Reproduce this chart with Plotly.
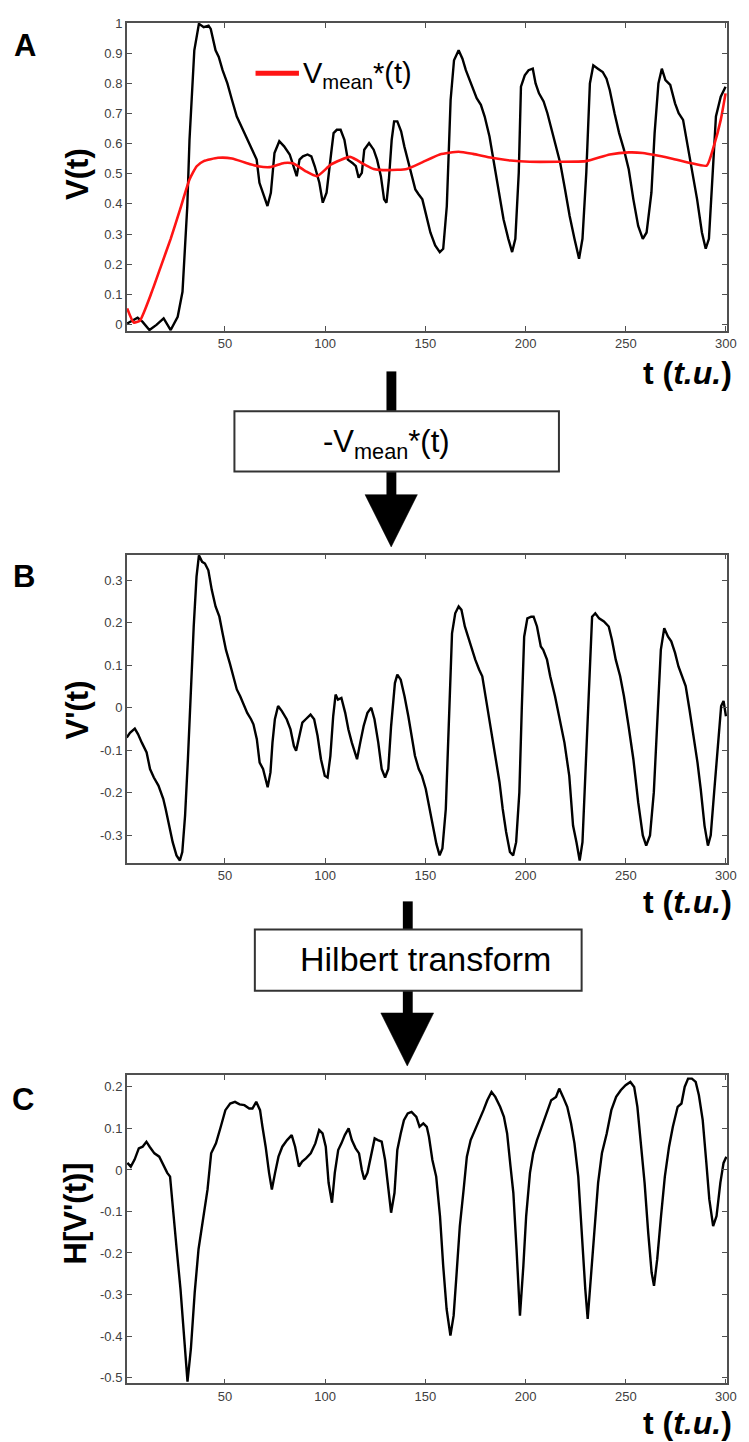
import plotly.graph_objects as go

# ---------------- data ----------------
# Panel A: V(t)
tA = [1.2, 6.4, 8.8, 12.3, 15.8, 19.4, 22.9, 26.4, 28.8, 31.2,
      32.3, 33.5, 34.7, 37.0, 39.4, 41.8, 42.9, 45.3, 46.9, 48.8,
      51.2, 53.5, 55.9, 58.2, 60.6, 63.0, 64.6, 65.8, 67.2, 68.9,
      71.2, 72.9, 74.7, 77.1, 79.5, 82.3, 84.2, 85.8, 87.2, 88.9,
      91.2, 93.1, 94.8, 97.1, 98.8, 100.7, 103.0, 104.2, 105.8, 107.7,
      109.6, 111.3, 113.6, 115.3, 116.7, 118.3, 119.5, 121.9, 124.2, 125.9,
      127.8, 129.4, 130.6, 131.8, 133.2, 134.4, 136.0, 137.9, 139.5, 141.2,
      143.1, 145.0, 146.6, 148.5, 150.1, 152.5, 154.9, 157.2, 158.9, 160.7,
      162.6, 164.3, 166.6, 168.5, 170.2, 172.1, 173.7, 175.6, 177.7, 179.6,
      182.0, 184.3, 186.7, 189.0, 191.4, 193.3, 194.9, 196.6, 197.7, 199.6,
      201.5, 203.6, 205.0, 206.7, 209.0, 210.9, 212.6, 214.9, 217.3, 219.7,
      222.0, 224.4, 226.7, 228.4, 230.3, 232.1, 233.8, 236.1, 238.5, 240.4,
      242.0, 244.4, 246.7, 249.1, 251.5, 253.8, 256.2, 258.5, 260.4, 262.8,
      264.4, 266.3, 268.0, 269.8, 272.2, 274.6, 276.4, 278.6, 280.9, 283.3,
      285.6, 288.0, 289.9, 291.5, 293.2, 295.0, 297.4, 299.8]
vA = [0.003, 0.022, 0.009, -0.019, -0.002, 0.020, -0.019, 0.025, 0.108, 0.393,
      0.613, 0.778, 0.910, 0.998, 0.987, 0.992, 0.981, 0.910, 0.888, 0.844,
      0.800, 0.745, 0.690, 0.657, 0.624, 0.591, 0.569, 0.547, 0.470, 0.437,
      0.393, 0.437, 0.569, 0.608, 0.591, 0.564, 0.525, 0.492, 0.547, 0.558,
      0.564, 0.558, 0.525, 0.470, 0.404, 0.437, 0.569, 0.635, 0.646, 0.646,
      0.613, 0.547, 0.536, 0.525, 0.487, 0.503, 0.580, 0.602, 0.580, 0.547,
      0.492, 0.415, 0.404, 0.481, 0.613, 0.674, 0.674, 0.641, 0.591, 0.547,
      0.503, 0.448, 0.432, 0.415, 0.371, 0.305, 0.262, 0.240, 0.251, 0.393,
      0.745, 0.877, 0.910, 0.882, 0.844, 0.811, 0.778, 0.751, 0.729, 0.690,
      0.624, 0.536, 0.437, 0.349, 0.284, 0.240, 0.284, 0.503, 0.789, 0.827,
      0.844, 0.849, 0.800, 0.767, 0.740, 0.701, 0.657, 0.602, 0.536, 0.448,
      0.360, 0.284, 0.218, 0.284, 0.503, 0.800, 0.860, 0.849, 0.838, 0.816,
      0.778, 0.701, 0.635, 0.580, 0.514, 0.415, 0.327, 0.284, 0.305, 0.437,
      0.635, 0.800, 0.849, 0.811, 0.795, 0.734, 0.701, 0.679, 0.591, 0.503,
      0.415, 0.305, 0.251, 0.284, 0.503, 0.690, 0.756, 0.789]

# Panel A: V_mean*(t)
tM = [1.2, 4.5, 7.5, 13.5, 18.2, 22.9, 27.6, 32.3, 35.9, 39.4, 46.5,
      53.5, 60.6, 66.5, 72.4, 79.5, 84.2, 90.1, 95.9, 103.0, 112.4,
      119.5, 124.2, 131.3, 140.7, 147.8, 157.2, 166.6, 173.7, 183.1, 192.6,
      202.0, 216.1, 230.3, 242.0, 251.5, 258.5, 272.7, 282.1, 290.4, 293.9,
      297.4, 299.8]
vM = [0.053, 0.006, 0.012, 0.108, 0.196, 0.284, 0.382, 0.481, 0.525, 0.542, 0.553,
      0.551, 0.536, 0.525, 0.522, 0.536, 0.534, 0.509, 0.492, 0.531, 0.556,
      0.531, 0.516, 0.512, 0.516, 0.536, 0.564, 0.573, 0.566, 0.553, 0.544,
      0.540, 0.540, 0.542, 0.564, 0.571, 0.569, 0.551, 0.536, 0.527, 0.591,
      0.679, 0.767]

# Panel B: V'(t)
tB = [1.0, 2.6, 5.0, 6.6, 8.5, 10.9, 12.6, 14.5, 16.8, 19.2,
      20.4, 22.3, 23.9, 25.8, 27.5, 28.7, 30.1, 31.5, 32.9, 34.4,
      35.8, 37.0, 38.6, 40.0, 41.7, 43.4, 45.3, 47.2, 48.8, 50.5,
      52.4, 54.0, 55.9, 57.6, 59.5, 61.1, 63.0, 64.2, 65.9, 67.3,
      69.0, 70.4, 71.3, 72.7, 73.7, 74.9, 76.5, 78.4, 80.8, 82.7,
      84.4, 85.5, 87.0, 88.6, 90.3, 92.7, 94.5, 96.2, 97.9, 99.8,
      101.2, 102.6, 104.0, 105.2, 106.4, 108.1, 110.0, 111.6, 113.3, 114.5,
      115.9, 117.5, 119.2, 121.1, 123.0, 124.6, 126.5, 128.2, 129.9, 131.5,
      132.9, 134.8, 136.0, 137.7, 139.6, 141.5, 143.1, 144.8, 146.7, 148.3,
      150.2, 151.9, 153.8, 155.5, 157.1, 158.5, 160.2, 161.8, 163.3, 164.9,
      166.6, 168.0, 169.7, 171.3, 173.2, 174.9, 176.8, 178.4, 180.3, 182.7,
      185.1, 187.0, 188.6, 190.3, 192.2, 193.8, 195.3, 196.9, 198.1, 199.3,
      200.9, 202.8, 204.0, 205.7, 207.6, 208.8, 210.7, 212.3, 214.7, 217.1,
      219.4, 221.8, 223.7, 225.4, 227.0, 228.4, 230.1, 231.8, 233.2, 234.8,
      236.7, 239.1, 241.5, 243.1, 245.0, 247.2, 249.1, 251.4, 253.8, 256.2,
      258.5, 260.2, 262.1, 264.0, 265.6, 267.5, 269.2, 271.1, 272.7, 274.6,
      276.3, 277.9, 279.9, 281.8, 283.9, 285.8, 287.4, 289.3, 291.0, 292.4,
      294.1, 296.0, 297.6, 298.8, 300.0]
vB = [-0.070, -0.059, -0.049, -0.062, -0.082, -0.105, -0.144, -0.164, -0.183, -0.214,
      -0.238, -0.277, -0.316, -0.347, -0.359, -0.339, -0.253, -0.121, 0.035, 0.191,
      0.308, 0.358, 0.343, 0.339, 0.323, 0.277, 0.238, 0.214, 0.175, 0.136,
      0.105, 0.074, 0.043, 0.027, 0.004, -0.012, -0.027, -0.039, -0.074, -0.129,
      -0.144, -0.175, -0.187, -0.152, -0.082, -0.027, 0.004, -0.008, -0.027, -0.051,
      -0.090, -0.101, -0.070, -0.035, -0.027, -0.016, -0.027, -0.066, -0.121, -0.160,
      -0.164, -0.113, -0.020, 0.031, 0.019, 0.023, -0.012, -0.051, -0.082, -0.098,
      -0.121, -0.082, -0.043, -0.012, 0.000, -0.027, -0.082, -0.144, -0.164, -0.144,
      -0.043, 0.058, 0.078, 0.066, 0.027, -0.020, -0.066, -0.113, -0.144, -0.160,
      -0.191, -0.230, -0.277, -0.320, -0.347, -0.331, -0.238, -0.004, 0.175, 0.222,
      0.238, 0.230, 0.191, 0.167, 0.136, 0.113, 0.090, 0.074, 0.019, -0.051,
      -0.121, -0.175, -0.238, -0.292, -0.339, -0.347, -0.316, -0.199, -0.004, 0.167,
      0.210, 0.214, 0.214, 0.191, 0.144, 0.136, 0.113, 0.074, 0.027, -0.027,
      -0.082, -0.160, -0.277, -0.316, -0.359, -0.316, -0.121, 0.074, 0.214, 0.222,
      0.210, 0.203, 0.191, 0.160, 0.113, 0.074, 0.027, -0.043, -0.121, -0.222,
      -0.300, -0.324, -0.300, -0.199, -0.043, 0.136, 0.187, 0.167, 0.156, 0.129,
      0.097, 0.074, 0.051, -0.004, -0.066, -0.129, -0.191, -0.277, -0.324, -0.300,
      -0.199, -0.082, 0.004, 0.016, -0.020]

# Panel C: H[V'(t)]
tC = [1.3, 3.0, 4.9, 7.0, 8.9, 10.8, 12.4, 14.8, 17.2, 19.5,
      21.2, 22.6, 24.2, 25.9, 27.8, 29.7, 31.3, 33.0, 34.9, 36.8,
      39.1, 41.3, 43.1, 45.5, 47.9, 50.2, 52.6, 55.0, 57.3, 59.7,
      62.1, 63.7, 65.6, 67.5, 68.7, 70.3, 72.0, 73.4, 75.0, 76.7,
      78.6, 81.0, 83.3, 85.0, 86.9, 88.5, 90.4, 92.8, 95.1, 97.0,
      98.7, 100.3, 101.7, 103.4, 104.8, 106.5, 108.1, 109.8, 111.7, 113.3,
      115.2, 116.9, 118.3, 119.5, 121.1, 122.8, 124.7, 126.3, 128.2, 129.9,
      131.3, 132.9, 134.6, 136.0, 137.7, 139.3, 141.2, 143.1, 145.5, 147.1,
      149.0, 150.7, 151.8, 153.5, 155.4, 157.3, 158.9, 160.6, 162.5, 164.1,
      165.5, 167.2, 169.1, 170.7, 172.6, 174.8, 176.7, 179.0, 180.9, 183.0,
      184.9, 187.3, 189.2, 190.8, 192.5, 193.9, 195.5, 197.2, 198.9, 200.3,
      202.2, 203.8, 205.7, 208.1, 210.4, 212.8, 215.2, 216.8, 218.7, 220.8,
      222.7, 224.4, 226.3, 227.9, 229.8, 231.0, 232.4, 234.1, 236.2, 238.1,
      240.5, 242.8, 245.2, 247.5, 249.9, 252.3, 254.2, 255.8, 257.5, 259.4,
      261.2, 262.9, 264.1, 265.7, 267.6, 269.5, 271.6, 273.5, 275.9, 277.8,
      279.4, 281.1, 283.0, 284.9, 286.5, 288.4, 290.1, 291.7, 293.6, 295.3,
      297.2, 298.8, 300.2]
vC = [0.017, 0.008, 0.025, 0.052, 0.056, 0.068, 0.056, 0.040, 0.032, 0.008,
      -0.007, -0.016, -0.111, -0.191, -0.287, -0.399, -0.510, -0.430, -0.295, -0.191,
      -0.111, -0.047, 0.040, 0.064, 0.104, 0.144, 0.160, 0.164, 0.158, 0.156,
      0.148, 0.148, 0.164, 0.144, 0.104, 0.056, -0.007, -0.047, -0.007, 0.032,
      0.056, 0.072, 0.084, 0.056, 0.008, 0.020, 0.028, 0.040, 0.064, 0.096,
      0.088, 0.056, -0.031, -0.079, -0.007, 0.048, 0.064, 0.084, 0.100, 0.072,
      0.052, 0.040, 0.000, -0.023, -0.007, 0.032, 0.076, 0.072, 0.068, 0.024,
      -0.031, -0.103, -0.055, 0.048, 0.088, 0.120, 0.136, 0.140, 0.128, 0.104,
      0.112, 0.104, 0.080, 0.024, -0.016, -0.111, -0.231, -0.335, -0.399, -0.351,
      -0.255, -0.135, -0.047, 0.032, 0.072, 0.096, 0.120, 0.144, 0.168, 0.188,
      0.176, 0.152, 0.128, 0.088, 0.008, -0.055, -0.191, -0.351, -0.231, -0.111,
      -0.007, 0.040, 0.072, 0.104, 0.136, 0.168, 0.176, 0.196, 0.176, 0.152,
      0.112, 0.064, -0.016, -0.151, -0.287, -0.359, -0.271, -0.151, -0.031, 0.040,
      0.088, 0.144, 0.176, 0.192, 0.204, 0.212, 0.200, 0.152, 0.072, -0.031,
      -0.151, -0.247, -0.279, -0.215, -0.111, -0.016, 0.056, 0.104, 0.152, 0.160,
      0.200, 0.220, 0.220, 0.212, 0.180, 0.120, 0.024, -0.071, -0.135, -0.111,
      -0.031, 0.017, 0.032]

x_ticks = [50, 100, 150, 200, 250, 300]
yA_ticks = [0, 0.1, 0.2, 0.3, 0.4, 0.5, 0.6, 0.7, 0.8, 0.9, 1]
yA_text = ["0", "0.1", "0.2", "0.3", "0.4", "0.5", "0.6", "0.7", "0.8", "0.9", "1"]
yB_ticks = [-0.3, -0.2, -0.1, 0, 0.1, 0.2, 0.3]
yB_text = ["-0.3", "-0.2", "-0.1", "0", "0.1", "0.2", "0.3"]
yC_ticks = [-0.5, -0.4, -0.3, -0.2, -0.1, 0, 0.1, 0.2]
yC_text = ["-0.5", "-0.4", "-0.3", "-0.2", "-0.1", "0", "0.1", "0.2"]

# ---------------- layout helpers ----------------
W, H = 749, 1442
FONT = "Liberation Sans, Arial, Helvetica, sans-serif"


def px(x):
    return x / W


def py(y):
    return 1 - y / H


fig = go.Figure()
fig.add_trace(go.Scatter(x=tA, y=vA, mode="lines", xaxis="x", yaxis="y",
                         line=dict(color="black", width=2.4), name="V(t)"))
fig.add_trace(go.Scatter(x=tM, y=vM, mode="lines", xaxis="x", yaxis="y",
                         line=dict(color="#ff1414", width=2.6, shape="spline", smoothing=0.5),
                         name="V<sub>mean</sub>*(t)"))
fig.add_trace(go.Scatter(x=tB, y=vB, mode="lines", xaxis="x2", yaxis="y2",
                         line=dict(color="black", width=2.4), name="V'(t)"))
fig.add_trace(go.Scatter(x=tC, y=vC, mode="lines", xaxis="x3", yaxis="y3",
                         line=dict(color="black", width=2.4), name="H[V'(t)]"))

axis_style = dict(showline=True, mirror="ticks", linecolor="#505050", linewidth=1.5,
                  ticks="inside", ticklen=5, tickwidth=1, tickcolor="#505050",
                  showgrid=False, zeroline=False,
                  tickfont=dict(family=FONT, size=13, color="#404040"))

xdom = [px(128.5), px(737)]
panels = [(16, 326), (551, 861), (1075, 1385)]
yranges = [[-0.022, 1.001], [-0.364, 0.36], [-0.514, 0.228]]
yticks = [(yA_ticks, yA_text), (yB_ticks, yB_text), (yC_ticks, yC_text)]

layout_axes = {}
for i, ((top, bot), yr, (tv, tt)) in enumerate(zip(panels, yranges, yticks)):
    sfx = "" if i == 0 else str(i + 1)
    layout_axes["xaxis" + sfx] = dict(axis_style, domain=xdom, range=[1, 300.6],
                                      tickvals=x_ticks, anchor="y" + sfx,
                                      ticklabeloverflow="allow")
    layout_axes["yaxis" + sfx] = dict(axis_style, domain=[py(bot), py(top)], range=yr,
                                      tickvals=tv, ticktext=tt, anchor="x" + sfx,
                                      ticklabeloverflow="allow")

shapes = []
annotations = []


def ann(text, x, y, size, xanchor="center", yanchor="middle", angle=0, color="black"):
    annotations.append(dict(text=text, x=px(x), y=py(y), xref="paper", yref="paper",
                            xanchor=xanchor, yanchor=yanchor, textangle=angle,
                            showarrow=False, borderpad=0,
                            font=dict(family=FONT, size=size, color=color)))


def rect(x0, y0, x1, y1, fill, line_w, line_c="#333333"):
    shapes.append(dict(type="rect", xref="paper", yref="paper",
                       x0=px(x0), x1=px(x1), y0=py(y1), y1=py(y0),
                       fillcolor=fill, line=dict(color=line_c, width=line_w)))


def tri(xl, xr, ytop, xtip, ytip):
    path = "M {:.5f},{:.5f} L {:.5f},{:.5f} L {:.5f},{:.5f} Z".format(
        px(xl), py(ytop), px(xr), py(ytop), px(xtip), py(ytip))
    shapes.append(dict(type="path", xref="paper", yref="paper", path=path,
                       fillcolor="black", line=dict(color="black", width=0.5)))


# Panel letters
ann("<b>A</b>", 25, 39, 31)
ann("<b>B</b>", 24, 573, 31)
ann("<b>C</b>", 23, 1099, 31)

# Y-axis titles
ann("<b>V(t)</b>", 79, 168, 31, angle=-90)
ann("<b>V'(t)</b>", 79, 707, 31, angle=-90)
ann("<b>H[V'(t)]</b>", 76, 1214, 31, angle=-90)

# X-axis titles
for yc in (368, 901, 1425):
    ann("<b>t (<i>t.u.</i>)</b>", 743, yc, 32, xanchor="right")

# Legend for the mean curve (panel A)
shapes.append(dict(type="line", xref="paper", yref="paper",
                   x0=px(259), x1=px(303), y0=py(66.7), y1=py(66.7),
                   line=dict(color="#ff1414", width=5)))
ann("V<sub>mean</sub>*(t)", 306, 68, 29, xanchor="left")

# Flow step 1: -V_mean*(t)
rect(391.7, 366.7, 401.7, 408, "black", 0, "black")
rect(391.7, 466, 401.7, 492, "black", 0, "black")
rect(237.6, 406.7, 566.5, 467.3, "white", 2)
tri(370, 423, 490.7, 396.5, 543.3)
ann("-V<sub>mean</sub>*(t)", 392, 440, 31)

# Flow step 2: Hilbert transform
rect(408.3, 900, 418.3, 929.5, "black", 0, "black")
rect(408.3, 989, 418.3, 1013.5, "black", 0, "black")
rect(258.3, 928.3, 589.5, 990, "white", 2)
tri(386, 439.5, 1012.3, 412.8, 1065.7)
ann("Hilbert transform", 431, 958, 34)

fig.update_layout(width=W, height=H, margin=dict(l=0, r=0, t=0, b=0),
                  paper_bgcolor="white", plot_bgcolor="white", showlegend=False,
                  shapes=shapes, annotations=annotations, **layout_axes)

fig.write_html("out.html",
               post_script="document.body.style.margin='0';document.body.style.overflow='hidden';")
